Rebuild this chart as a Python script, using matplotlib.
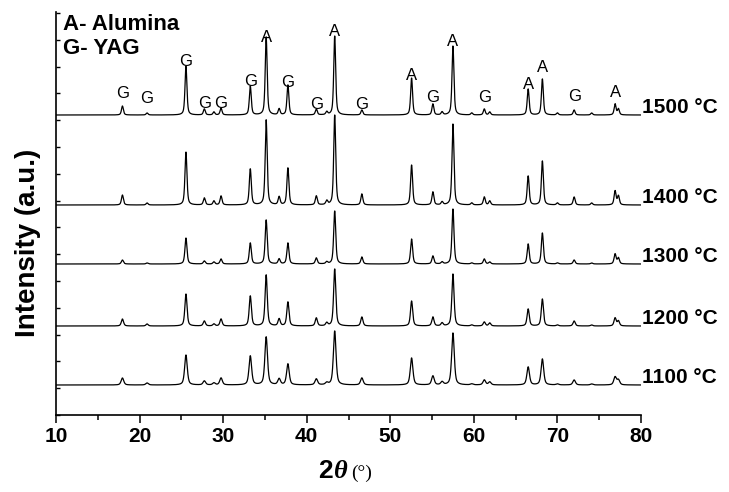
import numpy as np
import matplotlib.pyplot as plt
from matplotlib.ticker import MultipleLocator

plt.rcParams['font.family'] = ['Liberation Sans', 'DejaVu Sans']

# - - - Peak list (2theta in degrees) - - - #
peak_pos = [17.95, 20.9, 25.55, 27.75, 28.9, 29.75, 33.25, 35.15, 36.7, 37.75,
            41.15, 42.4, 43.35, 46.6, 52.55, 55.1, 56.2, 57.5, 59.75, 61.25,
            61.9, 66.5, 68.2, 70.0, 72.0, 74.1, 76.9, 77.3]

# peak heights above each pattern's own baseline (a.u.)
h_1500 = [9, 2, 49, 6, 3, 7, 29, 78, 6, 30, 6, 3, 79, 5, 37, 11, 3, 69, 2, 6,
          3, 26, 36, 2, 5, 2, 11, 6]
h_1400 = [10, 2, 53, 7, 4, 9, 36, 85, 8, 37, 9, 4, 90, 11, 40, 13, 3, 81, 2, 8,
          4, 29, 44, 2, 8, 2, 14, 9]
h_1300 = [4, 1, 26, 3, 2, 5, 21, 44, 5, 21, 6, 2, 53, 7, 25, 8, 2, 55, 1, 5,
          2, 20, 31, 1, 4, 1, 10, 6]
h_1200 = [7, 2, 32, 5, 2, 7, 30, 51, 7, 24, 8, 3, 57, 9, 25, 9, 3, 52, 1, 4,
          3, 17, 27, 1, 5, 1, 8, 5]
h_1100 = [7, 2, 30, 4, 2, 7, 29, 48, 6, 21, 6, 2, 54, 7, 27, 9, 3, 52, 1, 5,
          3, 18, 26, 1, 5, 1, 8, 5]

temps = ['1500 °C', '1400 °C', '1300 °C', '1200 °C', '1100 °C']
heights = [h_1500, h_1400, h_1300, h_1200, h_1100]
offsets = [300, 210, 151, 89, 30]
fwhm = [0.27, 0.28, 0.29, 0.31, 0.37]

# phase marks above the 1500 C pattern
mark_pos = [17.95, 20.9, 25.55, 27.75, 29.75, 33.25, 35.15, 37.75, 41.15, 43.35,
            46.6, 52.55, 55.1, 57.5, 61.25, 66.5, 68.2, 72.0, 76.9]
mark_phase = ['G', 'G', 'G', 'G', 'G', 'G', 'A', 'G', 'G', 'A',
              'G', 'A', 'G', 'A', 'G', 'A', 'A', 'G', 'A']


def pattern(tth, pos, amp, w, eta=0.55):
    # pseudo-Voigt sum for the listed reflections
    y = np.zeros_like(tth)
    for p, a in zip(pos, amp):
        d = (tth - p) / (w / 2)
        y += a * (eta / (1 + d**2) + (1 - eta) * np.exp(-np.log(2) * d**2))
    return y


tth = np.linspace(10, 80, 4001)

fig = plt.figure(figsize=(7.29, 4.92), dpi=100)
ax = fig.add_axes([56/729, 77/492, 585/729, 403/492])

for name, h, off, w in zip(temps, heights, offsets, fwhm):
    ax.plot(tth, off + pattern(tth, peak_pos, h, w), color='black', lw=0.9)
    ax.text(80.1, off + 2, name, fontsize=15, fontweight='bold',
            ha='left', va='baseline', clip_on=False)

# - - - A / G marks - - - #
nudge = {17.95: 8, 20.9: 6, 27.75: 1, 55.1: 2, 61.25: 7, 72.0: 8,
         76.9: 7, 68.2: 7, 35.15: -5, 52.55: -2, 37.75: -2}
for p, ph in zip(mark_pos, mark_phase):
    apex = h_1500[peak_pos.index(p)]
    y = max(apex, 6) + nudge.get(p, 0)
    ax.text(p, offsets[0] + y, ph, fontsize=12, ha='center', va='baseline')

ax.text(10.85, 390, 'A- Alumina', fontsize=16, fontweight='bold', va='center')
ax.text(10.85, 367, 'G- YAG', fontsize=16, fontweight='bold', va='center')

ax.set_xlim(10, 80)
ax.set_ylim(0, 403)
ax.spines['top'].set_visible(False)
ax.spines['right'].set_visible(False)
for s in ('left', 'bottom'):
    ax.spines[s].set_linewidth(1.2)

ax.xaxis.set_major_locator(MultipleLocator(10))
ax.xaxis.set_minor_locator(MultipleLocator(5))
ax.yaxis.set_major_locator(MultipleLocator(26.8))
ax.tick_params(axis='x', which='major', direction='out', length=6, width=1.1,
               pad=3, labelsize=15)
ax.tick_params(axis='x', which='minor', direction='out', length=3.5, width=1.1)
ax.tick_params(axis='y', direction='in', length=3, width=1, labelleft=False)
for lbl in ax.get_xticklabels():
    lbl.set_fontweight('bold')

# - - - Axis titles - - - #
fig.text(28/729, 1 - 243/492, 'Intensity (a.u.)', fontsize=20, fontweight='bold',
         rotation=90, ha='center', va='center')
fig.text(333/729, 1 - 478/492, '2', fontsize=19, fontweight='bold',
         ha='right', va='baseline')
fig.text(334/729, 1 - 478/492, 'θ', fontsize=19, fontweight='bold',
         fontstyle='italic', family=['Liberation Serif', 'DejaVu Serif'],
         ha='left', va='baseline')
fig.text(351/729, 1 - 478/492, '(°)', fontsize=14,
         family=['Liberation Serif', 'DejaVu Serif'], ha='left', va='baseline')

fig.savefig('out.png', dpi=100)
